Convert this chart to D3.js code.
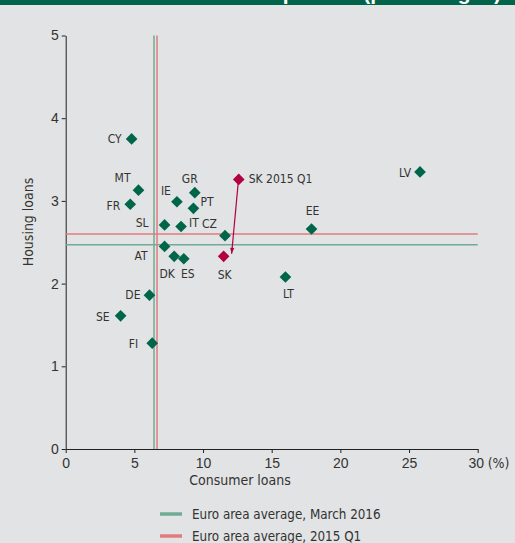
<!DOCTYPE html>
<html><head><meta charset="utf-8">
<script src="https://cdn.jsdelivr.net/npm/d3@7"></script>
<style>
html,body{margin:0;padding:0;background:#e2e3e4;}
svg{display:block;font-family:"DejaVu Sans Condensed","Liberation Sans Narrow",sans-serif;}
</style></head>
<body><svg id="c" width="515" height="543"></svg>
<script>
// ---- data ----
const countries = ["CY","MT","FR","IE","GR","PT","SL","IT","CZ","AT","DK","ES","DE","SE","FI","EE","LV","LT"];
const consumerLoans = [4.8,5.3,4.7,8.1,9.4,9.3,7.2,8.4,11.6,7.2,7.9,8.6,6.1,4.0,6.3,17.9,25.8,16.0];
const housingLoans  = [3.75,3.13,2.96,2.99,3.10,2.91,2.71,2.69,2.58,2.45,2.33,2.30,1.86,1.61,1.28,2.66,3.35,2.08];
const skLabels = ["SK","SK 2015 Q1"];
const skConsumer = [11.5,12.6];
const skHousing = [2.33,3.26];
const avgLabels = ["Euro area average, March 2016","Euro area average, 2015 Q1"];
const avgConsumer = [6.43,6.65];
const avgHousing = [2.47,2.60];
const xTicks = [0,5,10,15,20,25,30];
const yTicks = [0,1,2,3,4,5];
const xTitle = "Consumer loans";
const yTitle = "Housing loans";
const unitLabel = "(%)";
const headerTitle = "Loan developments (percentages)";

// ---- label placement (layout only) ----
const labelPos = {
  CY:[-10,0,"end"], MT:[-8,-12,"end"], FR:[-10,2,"end"], IE:[-6,-11,"end"],
  GR:[-5,-14,"middle"], PT:[7,-7,"start"], SL:[-16,-2,"end"], IT:[8,-4,"start"],
  CZ:[-8,-12,"end"], AT:[-17,9,"end"], DK:[-7,17,"middle"], ES:[4,15,"middle"],
  DE:[-9,0,"end"], SE:[-11,1,"end"], FI:[-14,1,"end"], EE:[1,-18,"middle"],
  LV:[-9,1,"end"], LT:[3,17,"middle"], SK:[1,18,"middle"], "SK 2015 Q1":[10,-1,"start"]
};

const green = "#00664a", red = "#b3003f";
const avgColors = ["#6fac93","#e07b80"];
const txt = "#333";
const svg = d3.select("#c");
const W = 515;

// header bar (title runs off the top edge, as in the source)
svg.append("rect").attr("x",0).attr("y",0).attr("width",W).attr("height",5).attr("fill","#00634a");
svg.append("text").attr("x",501).attr("y",0).attr("text-anchor","end")
  .attr("font-family","Liberation Sans, Arial, sans-serif")
  .attr("font-size",21).attr("font-weight","bold").attr("fill","#fff").text(headerTitle);

const x = d3.scaleLinear().domain([0,30]).range([65.7,477.7]);
const y = d3.scaleLinear().domain([0,5]).range([449,35.5]);

// axes
const ax = svg.append("g").attr("transform","translate(0,449)")
  .call(d3.axisBottom(x).tickValues(xTicks).tickSize(4).tickSizeOuter(0).tickPadding(5).tickFormat(d3.format("d")));
const ay = svg.append("g").attr("transform","translate(65.7,0)")
  .call(d3.axisLeft(y).tickValues(yTicks).tickSize(4).tickSizeOuter(0).tickPadding(3).tickFormat(d3.format("d")));
[ax,ay].forEach(g=>{
  g.selectAll("path,line").attr("stroke","#222").attr("stroke-width",1);
  g.selectAll("text").attr("font-size",14).attr("fill",txt).attr("font-family",null);
});
ax.selectAll(".tick").filter(d=>d===30).select("text").attr("dx","-2");
svg.append("text").attr("x",x(30)+10).attr("y",449+9).attr("dy","0.71em").attr("font-size",14).attr("fill",txt).text(unitLabel);

// axis titles
svg.append("text").attr("x",240).attr("y",485).attr("text-anchor","middle").attr("font-size",14).attr("fill",txt).text(xTitle);
svg.append("text").attr("transform","translate(33,222) rotate(-90)").attr("text-anchor","middle").attr("font-size",14).attr("fill",txt).text(yTitle);

// average lines
avgLabels.forEach((l,i)=>{
  svg.append("line").attr("x1",x(avgConsumer[i])).attr("x2",x(avgConsumer[i]))
    .attr("y1",y(5)).attr("y2",y(0)).attr("stroke",avgColors[i]).attr("stroke-width",1.5);
  svg.append("line").attr("x1",x(0)).attr("x2",x(30))
    .attr("y1",y(avgHousing[i])).attr("y2",y(avgHousing[i])).attr("stroke",avgColors[i]).attr("stroke-width",1.5);
});

// arrow
const defs = svg.append("defs");
defs.append("marker").attr("id","ah").attr("viewBox","0 0 10 10").attr("refX",10).attr("refY",5)
  .attr("markerWidth",8).attr("markerHeight",6).attr("markerUnits","userSpaceOnUse").attr("orient","auto")
  .append("path").attr("d","M0,1.5L10,5L0,8.5Z").attr("fill",red);
svg.append("line").attr("x1",x(skConsumer[1])-0.5).attr("y1",y(skHousing[1])+3)
  .attr("x2",x(skConsumer[0])+8).attr("y2",y(skHousing[0])-2.5)
  .attr("stroke",red).attr("stroke-width",1.2).attr("marker-end","url(#ah)");

const diamond = d3.symbol().type(d3.symbolSquare).size(68)();
function drawPoint(cx,cy,col){
  svg.append("path").attr("d",diamond).attr("fill",col)
    .attr("transform",`translate(${cx},${cy}) rotate(45)`);
}
function drawLabel(name,cx,cy){
  const p = labelPos[name];
  svg.append("text").attr("x",cx+p[0]).attr("y",cy+p[1]).attr("dy","0.35em")
    .attr("text-anchor",p[2]).attr("font-size",12).attr("fill",txt).text(name);
}
countries.forEach((c,i)=>{
  drawPoint(x(consumerLoans[i]),y(housingLoans[i]),green);
  drawLabel(c,x(consumerLoans[i]),y(housingLoans[i]));
});
skLabels.forEach((c,i)=>{
  drawPoint(x(skConsumer[i]),y(skHousing[i]),red);
  drawLabel(c,x(skConsumer[i]),y(skHousing[i]));
});

// legend
avgLabels.forEach((l,i)=>{
  const yy = 514 + i*22;
  svg.append("line").attr("x1",160).attr("x2",182).attr("y1",yy).attr("y2",yy)
    .attr("stroke",avgColors[i]).attr("stroke-width",3.5);
  svg.append("text").attr("x",192).attr("y",yy).attr("dy","0.35em").attr("font-size",13.3).attr("fill",txt).text(l);
});
</script></body></html>
